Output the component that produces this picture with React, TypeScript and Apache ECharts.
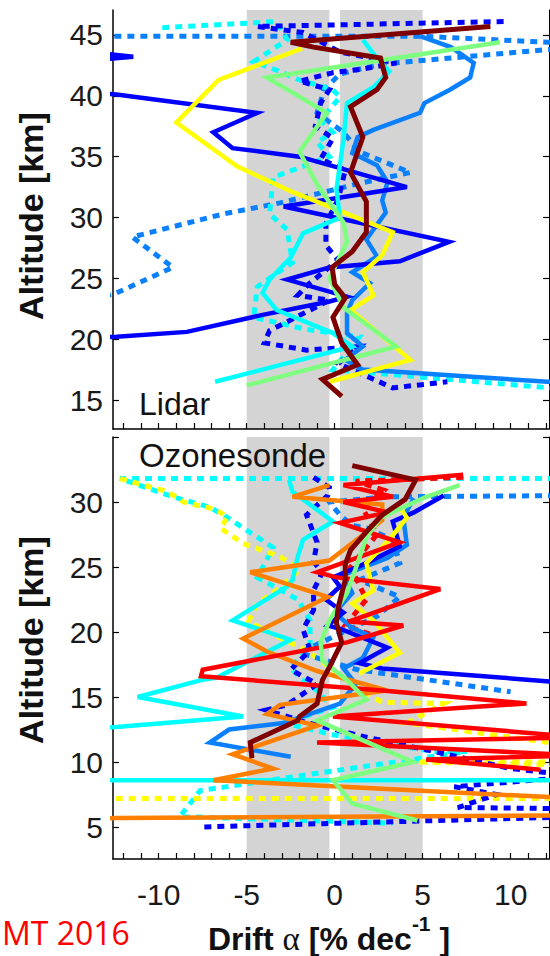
import { useEffect, useRef } from "react";
import * as echarts from "echarts";

type Profile = [number, number][];

// Drift axis (% per decade) and altitude ranges of the two panels
const DRIFT_MIN = -12.6;
const DRIFT_MAX = 12.18;
const driftTicks = [-12, -11, -10, -9, -8, -7, -6, -5, -4, -3, -2, -1, 0, 1, 2, 3, 4, 5, 6, 7, 8, 9, 10, 11, 12];
const driftLabels = [-10, -5, 0, 5, 10];

const LIDAR_ALT_MIN = 12.62;
const LIDAR_ALT_MAX = 47.05;
const lidarAltTicks = [15, 20, 25, 30, 35, 40, 45];

const SONDE_ALT_MIN = 2.54;
const SONDE_ALT_MAX = 35;
const sondeAltTicks = [5, 10, 15, 20, 25, 30, 35];
const sondeAltLabels = [5, 10, 15, 20, 25, 30];

// Shaded drift intervals
const driftBands: [number, number][] = [[-5, -0.3], [0.3, 5]];

// ---- Lidar profiles: [drift, altitude km] ----
const lidarMean: Profile = [[8.85, 45.7], [-2.5, 44.4], [-1.2, 44.0], [2.6, 43.1], [2.9, 41.5], [2.4, 40.5], [0.9, 39.1], [1.6, 36.6], [0.9, 33.7], [1.8, 31.3], [1.8, 28.8], [1.0, 27.2], [-0.15, 25.9], [0.0, 24.5], [0.6, 23.4], [-0.1, 21.8], [0.4, 19.7], [1.3, 17.9], [-0.7, 16.7], [0.4, 15.3]];
const lidarDarkBlue: Profile = [[-14, 43.6], [-11.45, 43.2], [-14, 42.9], [-14, 40.3], [-12.4, 40.1], [-4.4, 38.6], [-6.9, 37.0], [-5.8, 35.7], [-2.0, 35.0], [4.1, 32.5], [-2.9, 30.9], [6.5, 28.0], [3.7, 26.4], [-0.3, 25.9], [-2.7, 24.9], [0.7, 23.5], [-0.3, 23.1], [-4.1, 22.0], [-8.4, 20.6], [-12.4, 20.2], [-14, 20.1]];
const lidarBlue: Profile = [[4.85, 44.9], [6.6, 44.0], [7.9, 42.7], [7.7, 41.5], [6.55, 40.5], [5.1, 39.4], [4.85, 38.6], [2.2, 37.2], [1.3, 36.6], [1.0, 35.3], [2.4, 34.3], [3.0, 32.9], [2.7, 31.4], [2.9, 30.4], [1.8, 28.2], [2.4, 26.8], [1.0, 25.5], [2.0, 24.6], [1.0, 23.2], [0.7, 22.2], [0.7, 20.5], [1.6, 19.4], [0.6, 18.3], [1.6, 17.5], [12.1, 16.5], [14, 16.4]];
const lidarCyan: Profile = [[1.6, 44.6], [2.4, 43.1], [3.1, 42.0], [2.2, 40.7], [0.7, 39.4], [0.5, 36.4], [0.1, 32.3], [0.3, 30.0], [-1.8, 28.7], [-2.5, 26.7], [-3.7, 24.9], [-4.1, 23.8], [-3.3, 22.4], [-0.1, 20.5], [1.0, 19.4], [-6.8, 16.5]];
const lidarGreen: Profile = [[9.4, 44.4], [-3.85, 41.5], [-0.45, 38.6], [-2.0, 35.4], [-1.0, 32.7], [0.5, 29.6], [0.7, 28.0], [-0.3, 25.0], [0.5, 22.6], [3.5, 19.4], [-5.0, 16.2]];
const lidarYellow: Profile = [[-1.85, 43.9], [-6.6, 41.3], [-9.0, 37.8], [-5.55, 34.2], [-2.4, 32.1], [3.3, 28.8], [2.7, 26.9], [1.6, 25.5], [2.2, 23.6], [0.9, 22.4], [4.3, 18.3], [-0.3, 16.5]];
const lidarDarkBlueDot: Profile = [[9.6, 46.1], [-4.4, 45.7], [-1.8, 45.2], [0.3, 43.6], [3.5, 42.7], [1.6, 42.2], [-0.1, 41.9], [-2.0, 41.2], [-0.3, 40.5], [-0.8, 39.4], [-1.1, 37.5], [-0.1, 36.5], [-0.8, 34.8], [0.6, 33.9], [0.2, 31.5], [-0.5, 29.5], [-0.5, 27.7], [0.2, 26.5], [-1.5, 24.5], [-2.1, 23.6], [-0.3, 23.2], [-3.7, 20.7], [-4.0, 19.7], [-1.6, 19.1], [1.4, 19.4], [0.2, 18.0], [3.3, 16.0], [6.4, 16.5]];
const lidarBlueDotA: Profile = [[-14, 44.9], [4.85, 44.9], [12.1, 44.4], [14, 44.3]];
const lidarBlueDotB: Profile = [[14, 43.9], [12.1, 43.8], [2.6, 42.6], [0.3, 41.8], [-0.6, 40.5], [-1.0, 38.6], [0.5, 37.0], [1.4, 35.4], [4.3, 33.7], [1.4, 32.8], [-3.1, 31.2], [-6.3, 30.3], [-11.5, 28.4], [-9.2, 25.9], [-12.4, 23.8], [-14, 23.2]];
const lidarCyanDot: Profile = [[-9.8, 45.6], [-3.3, 46.1], [-2.7, 44.6], [-4.6, 42.8], [-3.3, 42.1], [-2.0, 41.3], [-0.1, 40.5], [0.3, 39.9], [-0.8, 38.0], [-0.1, 37.0], [-1.0, 36.2], [-0.3, 35.0], [-3.5, 33.3], [-3.7, 30.3], [-2.7, 29.0], [-2.4, 26.3], [-4.4, 24.3], [-4.6, 21.8], [-1.6, 20.8], [1.4, 20.2], [-0.1, 17.5], [12.2, 16.0], [14, 15.9]];

// ---- Ozonesonde profiles: [drift, altitude km] ----
const sondeMean: Profile = [[1.0, 32.8], [4.6, 31.7], [4.0, 30.2], [2.7, 29.0], [1.8, 27.7], [0.9, 26.3], [0.6, 25.2], [0.6, 24.0], [0.2, 21.9], [0.1, 20.7], [0.4, 19.2], [-0.3, 17.3], [-0.7, 16.3], [-1.0, 14.5], [-2.0, 13.5], [-2.1, 13.2], [-4.8, 11.5], [-4.7, 10.3]];
const sondeDarkBlue: Profile = [[6.2, 30.5], [4.5, 29.2], [3.3, 28.5], [3.7, 26.6], [1.8, 25.3], [-0.1, 24.2], [0.3, 23.5], [-0.5, 22.5], [0.5, 21.5], [-0.4, 20.5], [0.4, 20.2], [3.0, 18.8], [1.4, 17.6], [2.7, 17.2], [12.2, 16.2], [14, 16.1]];
const sondeBlue: Profile = [[4.5, 30.3], [3.9, 28.8], [4.1, 26.7], [3.0, 25.7], [0.5, 24.4], [1.0, 23.0], [0.0, 21.5], [1.0, 20.3], [2.2, 19.6], [1.6, 18.0], [0.5, 17.2], [1.2, 16.0], [0.3, 14.5], [-2.9, 13.0], [-6.0, 12.5], [-7.1, 11.5], [-2.5, 10.4]];
const sondeCyan: Profile = [[-2.6, 31.7], [-2.4, 30.8], [-1.2, 29.6], [-0.1, 28.5], [-1.8, 27.1], [-2.1, 25.8], [-2.4, 24.0], [-2.7, 23.5], [-5.8, 20.9], [-2.5, 19.4], [-6.7, 16.5], [-7.6, 16.3], [-11.2, 15.0], [-5.2, 13.5], [-12.4, 12.7], [-14, 12.6], [-14, 8.6], [14, 8.6]];
const sondeGreen: Profile = [[7.1, 31.3], [5.2, 30.4], [3.9, 29.6], [2.6, 28.8], [1.8, 27.3], [1.3, 25.3], [0.7, 23.0], [-0.3, 20.9], [-0.8, 19.2], [-0.7, 17.8], [0.7, 16.3], [1.8, 14.8], [-1.0, 13.2], [4.45, 10.0], [-0.1, 8.6], [1.0, 6.8], [4.7, 5.5]];
const sondeYellow: Profile = [[3.7, 29.6], [4.1, 28.8], [3.1, 27.1], [1.8, 25.3], [2.2, 23.2], [1.0, 22.2], [2.2, 20.9], [3.7, 18.4], [1.4, 16.8]];
const sondeOrange: Profile = [[-0.3, 31.3], [-2.4, 30.4], [2.7, 29.8], [2.7, 28.6], [-0.3, 25.5], [-4.8, 24.6], [-0.4, 22.7], [-5.2, 19.5], [-3.85, 18.5], [-1.0, 17.0], [2.97, 15.5], [-3.1, 14.4], [-3.85, 13.7], [-1.0, 12.8], [-5.8, 10.6], [-3.5, 9.5], [-6.9, 8.6], [12.2, 7.3], [14, 7.2], [14, 5.9], [-12.4, 5.7], [-14, 5.6]];
const sondeRed: Profile = [[7.3, 32.1], [0.5, 31.3], [3.3, 30.4], [0.5, 30.0], [3.0, 29.2], [0.3, 28.4], [3.7, 26.9], [-1.0, 24.6], [0.1, 24.2], [6.0, 23.3], [0.8, 20.8], [3.9, 20.5], [0.7, 19.2], [-7.5, 17.1], [-7.6, 16.6], [2.7, 15.5], [10.9, 14.5], [-0.1, 13.5], [14, 11.9], [-1.0, 11.5], [14, 10.5], [5.2, 10.2], [11.7, 9.4]];
const sondeCyanDot: Profile = [[14, 31.8], [-12.2, 31.8], [-9.2, 30.4], [-7.1, 29.6], [-6.1, 28.8], [-4.4, 27.3], [-3.5, 26.5], [-4.4, 24.2], [-3.85, 23.8], [-2.1, 22.5], [-1.4, 20.9], [-1.4, 18.8], [-2.5, 17.3], [-2.0, 16.5], [-1.0, 15.5], [-0.1, 14.2], [-2.9, 13.0], [-0.1, 12.1], [5.6, 10.8], [7.5, 10.8], [4.45, 10.2], [-2.7, 8.8], [-7.65, 7.8], [-8.8, 5.8], [3.3, 5.3]];
const sondeYellowDot: Profile = [[-12.2, 31.8], [-9.5, 30.8], [-8.6, 30.0], [-6.7, 29.4], [-6.1, 28.8], [-6.5, 28.0], [-5.2, 26.8], [-3.1, 25.8], [-2.0, 24.8], [-3.3, 23.2], [-4.4, 22.2], [-4.9, 20.8], [-3.5, 19.8], [-1.6, 18.6], [0.0, 17.0], [1.5, 15.5], [2.7, 14.6], [6.2, 14.5], [4.1, 13.0], [12.2, 11.5], [14, 11.2], [14, 10.0], [4.7, 10.0], [12.2, 9.8], [14, 9.5], [14, 7.2], [-14, 7.2]];
const sondeDarkBlueDot: Profile = [[-1.2, 31.9], [-0.3, 31.1], [-0.4, 30.5], [-1.6, 29.0], [-1.0, 26.9], [-1.2, 25.4], [-0.7, 24.6], [-1.2, 23.2], [-1.2, 21.7], [-1.8, 20.2], [-1.4, 18.6], [-2.5, 17.1], [-1.0, 16.0], [-2.7, 14.4], [-3.9, 14.0], [-1.5, 13.0], [1.5, 12.0], [5.0, 11.0], [10, 9.5], [14, 8.9], [6.8, 8.1], [9.2, 7.5], [7.0, 6.5], [14, 6.4], [14, 5.8], [-7.7, 5.0]];
const sondeBlueDot: Profile = [[14, 30.5], [3.0, 30.4], [-0.3, 30.0], [0.3, 29.0], [1.0, 28.2], [1.8, 28.0], [3.3, 27.1], [3.7, 25.3], [1.4, 24.0], [3.7, 22.7], [2.4, 21.2], [0.5, 20.0], [-2.0, 18.4], [1.3, 17.1], [10.0, 15.4]];
const sondeRedDot: Profile = [[7.3, 31.9], [1.2, 31.6], [2.8, 30.9], [1.6, 29.5], [2.4, 27.5], [0.9, 25.0], [1.8, 22.5], [0.6, 20.5], [2.3, 19.7]];

const COLORS = {
  darkBlue: "#0000ff",
  blue: "#0a80ff",
  cyan: "#00ffff",
  green: "#7fff7f",
  yellow: "#ffff00",
  orange: "#ff8000",
  red: "#ff0000",
  darkRed: "#7f0000",
};

const FONT = "Liberation Sans, Arial, sans-serif";
const TICK_FONT_SIZE = 30;

// x-axis title, split so the exponent can be raised
const titlePieces: { text: string; size: number; bold: boolean; serif: boolean; raise: number }[] = [
  { text: "Drift ", size: 32, bold: true, serif: false, raise: 0 },
  { text: "α", size: 33, bold: false, serif: true, raise: 0 },
  { text: " [% dec", size: 32, bold: true, serif: false, raise: 0 },
  { text: "-1", size: 21, bold: true, serif: false, raise: 16 },
  { text: " ]", size: 32, bold: true, serif: false, raise: 0 },
];

function measure(text: string, font: string, size: number): number {
  const canvas = document.createElement("canvas");
  const ctx = canvas.getContext("2d");
  if (!ctx) return text.length * size * 0.55;
  ctx.font = font;
  return ctx.measureText(text).width;
}

function titleGraphics(centerX: number, middleY: number) {
  const fonts = titlePieces.map(
    (p) => `${p.bold ? "bold " : ""}${p.size}px ${p.serif ? '"Liberation Serif", serif' : '"Liberation Sans", Arial, sans-serif'}`
  );
  const widths = titlePieces.map((p, i) => measure(p.text, fonts[i], p.size));
  const total = widths.reduce((a, b) => a + b, 0);
  let x = centerX - total / 2;
  return titlePieces.map((p, i) => {
    const el = {
      type: "text",
      x,
      y: middleY - p.raise,
      style: {
        text: p.text,
        fontSize: p.size,
        fontWeight: p.bold ? "bold" : "normal",
        fontFamily: p.serif ? "Liberation Serif, serif" : FONT,
        fill: "#111",
        align: "left",
        verticalAlign: "middle",
      },
    };
    x += widths[i];
    return el;
  });
}

function profile(data: Profile, color: string, panel: 0 | 1, dotted: boolean, z: number, width?: number) {
  return {
    type: "line",
    data,
    xAxisIndex: panel,
    yAxisIndex: panel * 2,
    symbol: "none",
    showSymbol: false,
    clip: true,
    silent: true,
    z,
    lineStyle: {
      color,
      width: width ?? (dotted ? 5 : 4.5),
      type: dotted ? [7, 6] : "solid",
      cap: "butt",
      join: "miter",
    },
  };
}

function bandSeries(panel: 0 | 1, yMin: number, yMax: number) {
  return {
    type: "custom",
    xAxisIndex: panel,
    yAxisIndex: panel * 2,
    data: driftBands,
    encode: { x: [0, 1] },
    silent: true,
    z: 0,
    renderItem: (_params: any, api: any) => {
      const p0 = api.coord([api.value(0), yMax]);
      const p1 = api.coord([api.value(1), yMin]);
      return {
        type: "rect",
        shape: { x: p0[0], y: p0[1], width: p1[0] - p0[0], height: p1[1] - p0[1] },
        style: { fill: "#d4d4d4" },
      };
    },
  };
}

function xAxis(grid: number, withLabels: boolean) {
  return {
    type: "value",
    gridIndex: grid,
    min: DRIFT_MIN,
    max: DRIFT_MAX,
    axisLine: { show: true, onZero: false, lineStyle: { color: "#000", width: 1.5 } },
    axisTick: { show: true, inside: true, length: 6, customValues: driftTicks, lineStyle: { color: "#000", width: 1.2 } },
    axisLabel: withLabels
      ? { show: true, customValues: driftLabels, fontSize: TICK_FONT_SIZE, color: "#1a1a1a", fontFamily: FONT, margin: 20 }
      : { show: false },
    splitLine: { show: false },
  };
}

function yAxis(grid: number, min: number, max: number, ticks: number[], labels: number[] | null, right: boolean) {
  return {
    type: "value",
    gridIndex: grid,
    position: right ? "right" : "left",
    min,
    max,
    axisLine: { show: true, onZero: false, lineStyle: { color: "#000", width: right ? 1 : 1.5 } },
    axisTick: { show: true, inside: true, length: 6, customValues: ticks, lineStyle: { color: "#000", width: 1.2 } },
    axisLabel: labels
      ? { show: true, customValues: labels, fontSize: TICK_FONT_SIZE, color: "#1a1a1a", fontFamily: FONT, margin: 10 }
      : { show: false },
    splitLine: { show: false },
  };
}

export default function App() {
  const ref = useRef<HTMLDivElement>(null);

  useEffect(() => {
    if (!ref.current) return;
    const chart = echarts.init(ref.current, undefined, { renderer: "svg" });

    const option = {
      animation: false,
      backgroundColor: "#ffffff",
      textStyle: { fontFamily: FONT },
      grid: [
        { left: 113, top: 10, width: 436, height: 419 },
        { left: 113, top: 437, width: 436, height: 422 },
      ],
      xAxis: [xAxis(0, false), xAxis(1, true)],
      yAxis: [
        yAxis(0, LIDAR_ALT_MIN, LIDAR_ALT_MAX, lidarAltTicks, lidarAltTicks, false),
        yAxis(0, LIDAR_ALT_MIN, LIDAR_ALT_MAX, lidarAltTicks, null, true),
        yAxis(1, SONDE_ALT_MIN, SONDE_ALT_MAX, sondeAltTicks, sondeAltLabels, false),
        yAxis(1, SONDE_ALT_MIN, SONDE_ALT_MAX, sondeAltTicks, null, true),
      ],
      series: [
        bandSeries(0, LIDAR_ALT_MIN, LIDAR_ALT_MAX),
        bandSeries(1, SONDE_ALT_MIN, SONDE_ALT_MAX),
        // Lidar
        profile(lidarBlueDotA, COLORS.blue, 0, true, 2),
        profile(lidarBlueDotB, COLORS.blue, 0, true, 2),
        profile(lidarCyanDot, COLORS.cyan, 0, true, 2),
        profile(lidarDarkBlueDot, COLORS.darkBlue, 0, true, 2),
        profile(lidarBlue, COLORS.blue, 0, false, 3),
        profile(lidarDarkBlue, COLORS.darkBlue, 0, false, 3),
        profile(lidarYellow, COLORS.yellow, 0, false, 3),
        profile(lidarCyan, COLORS.cyan, 0, false, 3),
        profile(lidarGreen, COLORS.green, 0, false, 3),
        profile(lidarMean, COLORS.darkRed, 0, false, 4, 5),
        // Ozonesonde
        profile(sondeCyanDot, COLORS.cyan, 1, true, 2),
        profile(sondeYellowDot, COLORS.yellow, 1, true, 2),
        profile(sondeBlueDot, COLORS.blue, 1, true, 2),
        profile(sondeDarkBlueDot, COLORS.darkBlue, 1, true, 2),
        profile(sondeRedDot, COLORS.red, 1, true, 2),
        profile(sondeBlue, COLORS.blue, 1, false, 3),
        profile(sondeDarkBlue, COLORS.darkBlue, 1, false, 3),
        profile(sondeCyan, COLORS.cyan, 1, false, 3),
        profile(sondeYellow, COLORS.yellow, 1, false, 3),
        profile(sondeOrange, COLORS.orange, 1, false, 3),
        profile(sondeRed, COLORS.red, 1, false, 3),
        profile(sondeGreen, COLORS.green, 1, false, 3),
        profile(sondeMean, COLORS.darkRed, 1, false, 4, 5),
      ],
      graphic: [
        {
          type: "text",
          x: 31,
          y: 216,
          rotation: Math.PI / 2,
          style: { text: "Altitude [km]", fontSize: 34, fontWeight: "bold", fontFamily: FONT, fill: "#111", align: "center", verticalAlign: "middle" },
        },
        {
          type: "text",
          x: 31,
          y: 640,
          rotation: Math.PI / 2,
          style: { text: "Altitude [km]", fontSize: 34, fontWeight: "bold", fontFamily: FONT, fill: "#111", align: "center", verticalAlign: "middle" },
        },
        {
          type: "text",
          x: 139,
          y: 404,
          z: 10,
          style: { text: "Lidar", fontSize: 32, fontFamily: FONT, fill: "#111", align: "left", verticalAlign: "middle" },
        },
        {
          type: "text",
          x: 139,
          y: 455,
          z: 10,
          style: { text: "Ozonesonde", fontSize: 33, fontFamily: FONT, fill: "#111", align: "left", verticalAlign: "middle" },
        },
        ...titleGraphics(329, 939),
        {
          type: "text",
          x: 2,
          y: 932,
          style: { text: "MT 2016", fontSize: 32, fontFamily: "Open Sans, sans-serif", fill: "#ff0000", align: "left", verticalAlign: "middle" },
        },
      ],
    };

    chart.setOption(option as any);
    return () => chart.dispose();
  }, []);

  return (
    <div
      ref={ref}
      style={{ position: "absolute", left: 0, top: 0, width: 550, height: 956, background: "#fff" }}
    />
  );
}
